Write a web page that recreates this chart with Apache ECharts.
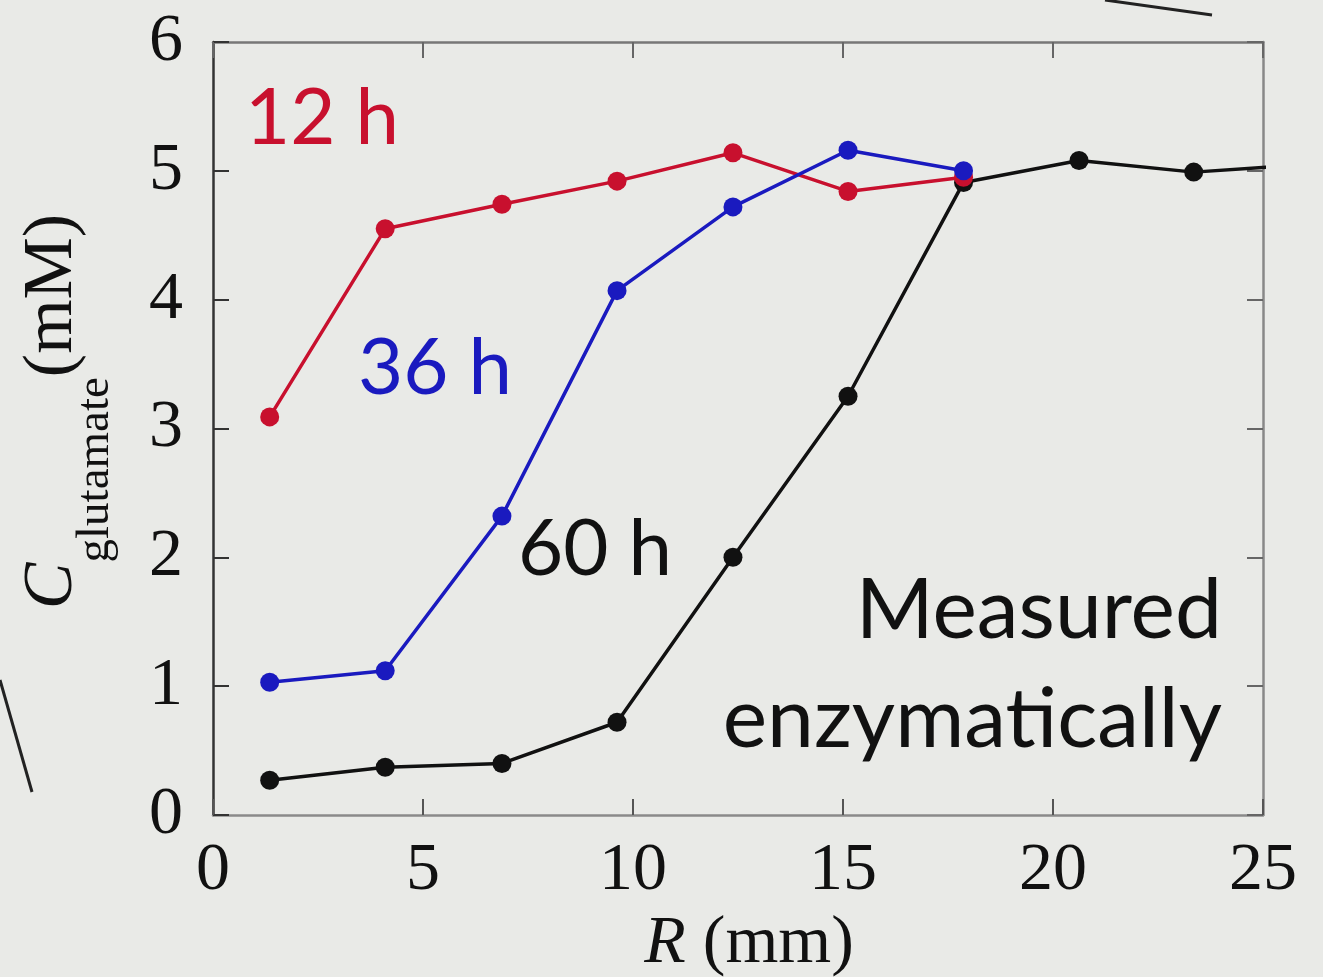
<!DOCTYPE html>
<html>
<head>
<meta charset="utf-8">
<script src="https://cdn.jsdelivr.net/npm/echarts@6/dist/echarts.min.js"></script>
<style>
  html, body { margin: 0; padding: 0; background: #e9eae7; }
  #chart { width: 1323px; height: 977px; }
</style>
</head>
<body>
<div id="chart"></div>
<script>
// radial positions (mm) of the sampling points
const radius = [1.35, 4.1, 6.88, 9.62, 12.38, 15.12, 17.87, 20.62, 23.35, 26.1]
// glutamate concentration (mM)
const glu12h = [3.09, 4.55, 4.74, 4.92, 5.14, 4.84, 4.95]
const glu36h = [1.03, 1.12, 2.32, 4.07, 4.72, 5.16, 5.0]
const glu60h = [0.27, 0.37, 0.40, 0.72, 2.0, 3.25, 4.91, 5.08, 4.99, 5.05]
const xTicks = [0, 5, 10, 15, 20, 25]
const yTicks = [0, 1, 2, 3, 4, 5, 6]

const serif = '"Liberation Serif", "DejaVu Serif", serif'
const sans = 'Lato, "Open Sans", sans-serif'
const red = '#c8102e', blue = '#1a1abf', black = '#111'

const pairs = ys => ys.map((v, i) => [radius[i], v])

const chart = echarts.init(document.getElementById('chart'), null, { renderer: 'canvas' })

const frameLine = c => ({ show: true, onZero: false, lineStyle: { color: c, width: 2.5 } })
const innerTick = c => ({ show: true, inside: true, length: 16, lineStyle: { color: c, width: 2 } })

chart.setOption({
  backgroundColor: '#e9eae7',
  animation: false,
  grid: { left: 213, right: 60, top: 42, bottom: 162, outerBoundsMode: 'none' },
  xAxis: [
    {
      type: 'value', min: xTicks[0], max: xTicks[xTicks.length - 1], interval: 5, position: 'bottom',
      axisLine: frameLine('#8a8a8a'), axisTick: innerTick('#555'), splitLine: { show: false },
      axisLabel: { color: '#111', fontFamily: serif, fontSize: 68, margin: 22,
        formatter: v => xTicks.includes(v) ? String(v) : '' },
      name: '{i|R} (mm)', nameLocation: 'middle', nameGap: 76,
      nameTextStyle: { color: '#111', fontFamily: serif, fontSize: 68, padding: [0, 0, 0, 22],
        rich: { i: { fontStyle: 'italic', fontFamily: serif, fontSize: 68, color: '#111' } } }
    },
    {
      type: 'value', min: 0, max: 25, interval: 5, position: 'top',
      axisLine: frameLine('#777'), axisTick: innerTick('#666'), axisLabel: { show: false }, splitLine: { show: false }
    }
  ],
  yAxis: [
    {
      type: 'value', min: yTicks[0], max: yTicks[yTicks.length - 1], interval: 1, position: 'left',
      axisLine: frameLine('#333'), axisTick: innerTick('#333'), splitLine: { show: false },
      axisLabel: { color: '#111', fontFamily: serif, fontSize: 68, margin: 30,
        formatter: v => yTicks.includes(v) ? String(v) : '' },
      name: '{c|C}{s|glutamate}{p|(mM)}', nameLocation: 'middle', nameRotate: 90, nameGap: 124,
      nameTextStyle: { padding: [0, 0, 0, 34],
        rich: {
          c: { fontStyle: 'italic', fontFamily: serif, fontSize: 70, color: '#111', lineHeight: 72, verticalAlign: 'middle' },
          s: { fontFamily: serif, fontSize: 47, color: '#111', lineHeight: 72, verticalAlign: 'bottom', padding: [0, 0, -30, 0] },
          p: { fontFamily: serif, fontSize: 70, color: '#111', lineHeight: 72, verticalAlign: 'middle' }
        } }
    },
    {
      type: 'value', min: 0, max: 6, interval: 1, position: 'right',
      axisLine: frameLine('#888'), axisTick: innerTick('#666'), axisLabel: { show: false }, splitLine: { show: false }
    }
  ],
  series: [
    { name: '60 h', type: 'line', data: pairs(glu60h), clip: true, symbol: 'circle', symbolSize: 19,
      itemStyle: { color: black }, lineStyle: { color: black, width: 3.5 }, z: 2 },
    { name: '12 h', type: 'line', data: pairs(glu12h), clip: true, symbol: 'circle', symbolSize: 19,
      itemStyle: { color: red }, lineStyle: { color: red, width: 3.5 }, z: 3 },
    { name: '36 h', type: 'line', data: pairs(glu36h), clip: true, symbol: 'circle', symbolSize: 19,
      itemStyle: { color: blue }, lineStyle: { color: blue, width: 3.5 }, z: 4 }
  ],
  graphic: [
    { type: 'text', x: 245, y: 119, style: { text: '12 h', fill: red, font: '78px ' + sans, verticalAlign: 'middle' } },
    { type: 'text', x: 358, y: 369, style: { text: '36 h', fill: blue, font: '78px ' + sans, verticalAlign: 'middle' } },
    { type: 'text', x: 518, y: 550, style: { text: '60 h', fill: black, font: '78px ' + sans, verticalAlign: 'middle' } },
    { type: 'text', x: 1222, y: 611, style: { text: 'Measured', fill: black, font: '84px ' + sans, align: 'right', verticalAlign: 'middle' } },
    { type: 'text', x: 1222, y: 720, style: { text: 'enzymatically', fill: black, font: '84px ' + sans, align: 'right', verticalAlign: 'middle' } },
    // stray strokes at the crop edges of the original figure
    { type: 'line', shape: { x1: 1105, y1: 0, x2: 1212, y2: 15 }, style: { stroke: '#222', lineWidth: 3 } },
    { type: 'line', shape: { x1: 0, y1: 680, x2: 32, y2: 792 }, style: { stroke: '#222', lineWidth: 3 } }
  ]
})

window.addEventListener('resize', () => chart.resize())
</script>
</body>
</html>
